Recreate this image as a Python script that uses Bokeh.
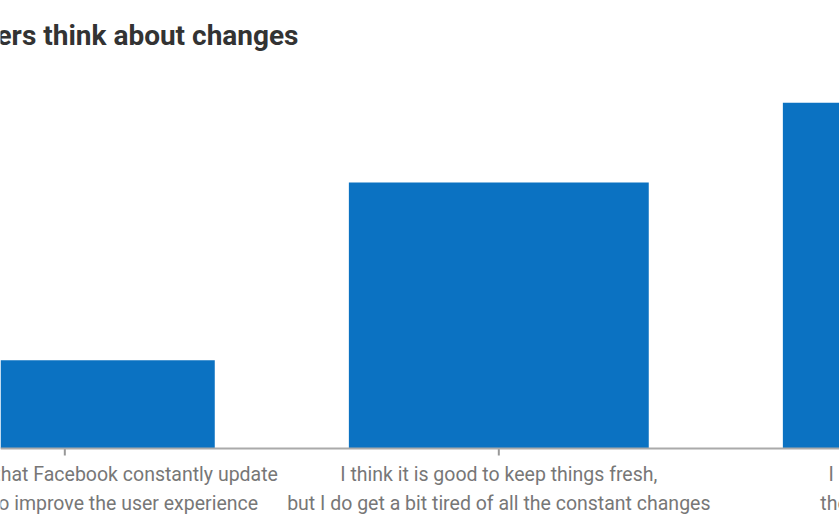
from bokeh.plotting import figure
from bokeh.models import Range1d, Label, ColumnDataSource, Span
from bokeh.embed import file_html
from bokeh.resources import INLINE

categories = [
    "I think it is great that Facebook constantly update\ntheir services to improve the user experience",
    "I think it is good to keep things fresh,\nbut I do get a bit tired of all the constant changes",
    "I prefer it the way it was,\nthe changes are too much",
]
shares = [12.6, 38.0, 49.4]
title_text = "What Facebook users think about changes"

idx = list(range(len(categories)))
src = ColumnDataSource(dict(x=idx, top=shares, label=categories,
                            tick_y0=[0] * len(idx), tick_y1=[-1.0] * len(idx),
                            label_y=[-2.1] * len(idx)))

p = figure(width=839, height=523, output_backend="svg", toolbar_location=None,
           x_range=Range1d(-0.1482, 1.7850), y_range=Range1d(-10.714, 64.0),
           min_border=0)
p.vbar(x="x", top="top", width=0.691, source=src, fill_color="#0b72c2", line_color=None)

p.xgrid.visible = False
p.ygrid.visible = False
p.xaxis.visible = False
p.yaxis.visible = False
p.outline_line_color = None
p.background_fill_color = "white"
p.border_fill_color = "white"

# category axis: baseline, ticks and labels
p.add_layout(Span(location=0, dimension="width", line_color="#aaaaaa", line_width=2))
p.segment(x0="x", y0="tick_y0", x1="x", y1="tick_y1", source=src,
          line_color="#999999", line_width=2)
p.text(x="x", y="label_y", text="label", source=src, text_align="center",
       text_baseline="top", text_font_size="19.5px", text_color="#777777",
       text_line_height=1.25, text_font={"value": "Roboto"})

p.add_layout(Label(x=298, y=59.0, x_units="screen", text=title_text,
                   text_align="right", text_baseline="alphabetic",
                   text_font="Roboto", text_font_style="bold",
                   text_font_size="28px", text_color="#333333"))

open("out.html", "w").write(file_html(p, INLINE))
